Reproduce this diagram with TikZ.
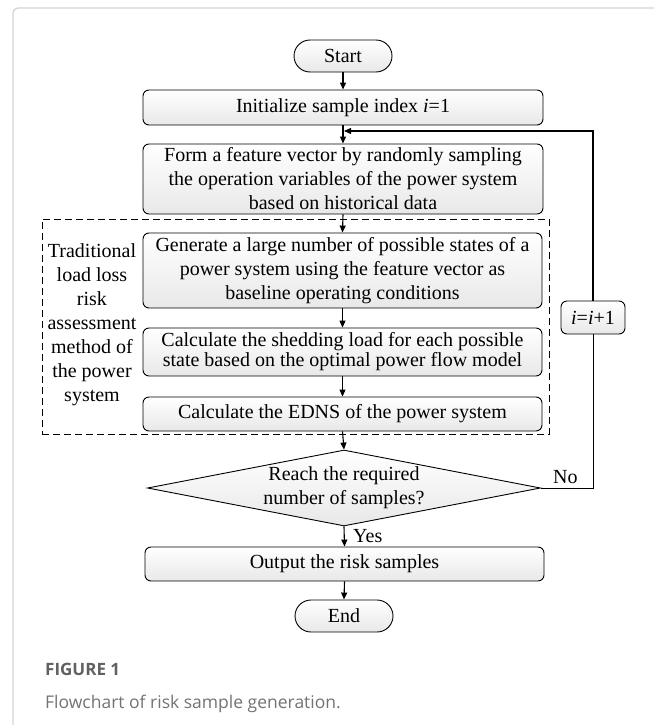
\documentclass[tikz,border=0pt]{standalone}
\usepackage{fontspec}
\setmainfont{Liberation Serif}
\newfontfamily\capfont{Open Sans}
\usetikzlibrary{arrows.meta,shapes.geometric}
\begin{document}
\begin{tikzpicture}[x=1pt,y=-1pt,
  every node/.style={font=\fontsize{20}{24}\selectfont, inner sep=0pt},
  box/.style={draw, line width=0.9pt, rounded corners=6pt, top color=white, bottom color=black!9, align=center},
  term/.style={box, rounded corners=16pt, minimum width=98pt, minimum height=32pt},
  arr/.style={line width=1.1pt, -{Triangle[length=7pt,width=6pt]}},
  plain/.style={line width=0.9pt},
  grpbox/.style={draw, line width=0.9pt, dash pattern=on 7pt off 4pt},
]
\useasboundingbox (0,0) rectangle (654,725);
\draw[black!17, line width=1.3pt, rounded corners=5pt] (13,725) -- (13,8) -- (654,8);

\node[term] (start) at (343,56) {Start};
\node[box, minimum width=400pt, minimum height=35pt] (init) at (343,107.5) {Initialize sample index \textit{i}=1};
\node[box, minimum width=400pt, minimum height=70pt] (feat) at (343,179) {Form a feature vector by randomly sampling\\the operation variables of the power system\\based on historical data};
\node[grpbox, minimum width=507pt, minimum height=215pt] (grp) at (295.5,326.5) {};
\node[box, minimum width=399pt, minimum height=75pt] (gen) at (342.5,270.5) {Generate a large number of possible states of a\\power system using the feature vector as\\baseline operating conditions};
\node[box, minimum width=399pt, minimum height=48pt, font=\fontsize{20}{20}\selectfont] (shed) at (342.5,352) {Calculate the shedding load for each possible\\state based on the optimal power flow model};
\node[box, minimum width=399pt, minimum height=34pt] (edns) at (342.5,414) {Calculate the EDNS of the power system};
\node[align=center] (trad) at (92,325) {Traditional\\load loss\\risk\\assessment\\method of\\the power\\system};
\node[diamond, aspect=5.17, draw, line width=0.9pt, top color=white, bottom color=black!9, minimum width=393pt, minimum height=76pt, inner sep=-8pt, align=center] (dec) at (344,488) {Reach the required\\number of samples?};
\node[box, minimum width=399pt, minimum height=34pt] (out) at (344.5,564) {Output the risk samples};
\node[term] (end) at (344,616) {End};
\node[box, minimum width=64pt, minimum height=33pt] (inc) at (593,317.5) {\textit{i}=\textit{i}+1};

\node[anchor=base west] (no) at (553,483) {No};
\node[anchor=base west] (yes) at (353,542) {Yes};

\coordinate (loopin) at (344,131);

\draw[arr] (start.south) -- (init.north);
\draw[arr] (init.south) -- (feat.north);
\draw[arr] (feat.south) -- (gen.north);
\draw[arr] (gen.south) -- (shed.north);
\draw[arr] (shed.south) -- (edns.north);
\draw[arr] (edns.south) -- (dec.north);
\draw[arr] (dec.south) -- (out.north);
\draw[arr] (out.south) -- (end.north);
\draw[plain] (dec.east) -| (inc.south);
\draw[arr] (inc.north) |- (loopin);

\node[anchor=base west, font=\capfont\bfseries\fontsize{17}{20}\selectfont, text=black!62] (fig) at (45,675) {FIGURE 1};
\node[anchor=base west, font=\capfont\fontsize{17.5}{20}\selectfont, text=black!55] (cap) at (45,708) {Flowchart of risk sample generation.};
\end{tikzpicture}
\end{document}
